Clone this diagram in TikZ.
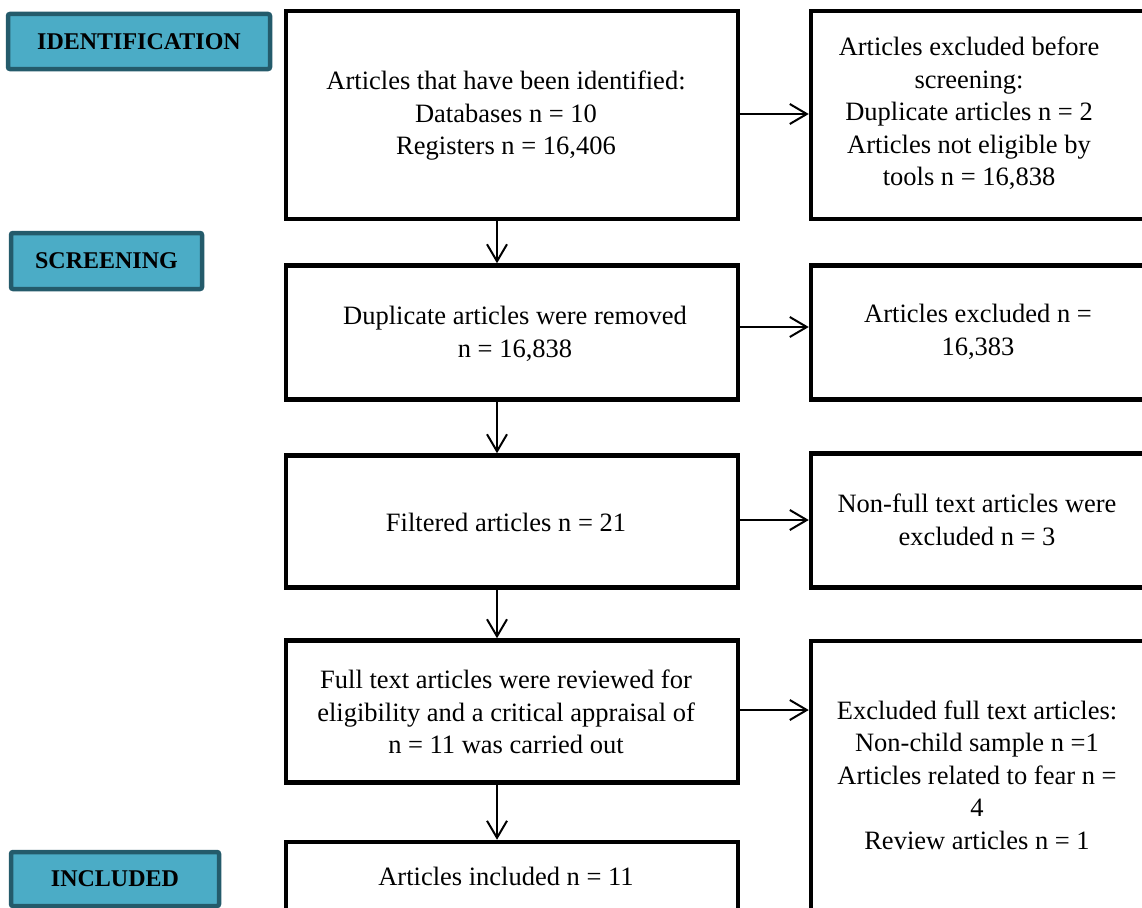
\documentclass[tikz,border=0pt]{standalone}
\usepackage{fontspec}
\setmainfont{Liberation Serif}
\usetikzlibrary{arrows.meta}
\definecolor{tealfill}{RGB}{75,172,198}
\definecolor{tealline}{RGB}{36,91,107}
\begin{document}
\begin{tikzpicture}[x=1pt,y=-1pt,
  mainbox/.style={draw=black,line width=4.5pt,rectangle,inner sep=0pt},
  txt/.style={align=center,inner sep=0pt,font=\fontsize{26.5}{32.5}\selectfont},
  stagebox/.style={draw=tealline,fill=tealfill,line width=4.5pt,rounded corners=2pt,inner sep=0pt,
    font=\fontsize{24}{26}\selectfont\bfseries},
  arr/.style={line width=2pt,-{Straight Barb[length=17pt,width=20pt,line width=2pt]}}]
\useasboundingbox (0,0) rectangle (1142,907);
% stage labels
\node[stagebox,minimum width=262pt,minimum height=55pt] (sid) at (139,41.5) {IDENTIFICATION};
\node[stagebox,minimum width=191pt,minimum height=56pt] (ssc) at (106.5,261) {SCREENING};
\node[stagebox,minimum width=208pt,minimum height=54pt] (sin) at (115,879) {INCLUDED};
% main column
\node[mainbox,minimum width=452pt,minimum height=208pt] (b1) at (512,115) {};
\node[mainbox,minimum width=452pt,minimum height=134pt] (b2) at (512,332.5) {};
\node[mainbox,minimum width=452pt,minimum height=132pt] (b3) at (512,521.5) {};
\node[mainbox,minimum width=452pt,minimum height=142pt] (b4) at (512,711.5) {};
\node[mainbox,minimum width=452pt,minimum height=100pt] (b5) at (512,892) {};
% right column
\node[mainbox,minimum width=350pt,minimum height=208pt] (r1) at (986,115) {};
\node[mainbox,minimum width=350pt,minimum height=134pt] (r2) at (986,332.5) {};
\node[mainbox,minimum width=350pt,minimum height=134pt] (r3) at (986,520.5) {};
\node[mainbox,minimum width=350pt,minimum height=300pt] (r4) at (986,791) {};
% texts
\node[txt] (t1) at (506,116) {Articles that have been identified:\\Databases n = 10\\Registers n = 16,406};
\node[txt] (t2) at (515,334) {Duplicate articles were removed\\n = 16,838};
\node[txt] (t3) at (506,522) {Filtered articles n = 21};
\node[txt] (t4) at (506,712) {Full text articles were reviewed for\\eligibility and a critical appraisal of\\n = 11 was carried out};
\node[txt] (t5) at (506,876) {Articles included n = 11};
\node[txt] (u1) at (969,113.5) {Articles excluded before\\screening:\\Duplicate articles n = 2\\Articles not eligible by\\tools n = 16,838};
\node[txt] (u2) at (978,332) {Articles excluded n =\\16,383};
\node[txt] (u3) at (977,520) {Non-full text articles were\\excluded n = 3};
\node[txt] (u4) at (977,775) {Excluded full text articles:\\Non-child sample n =1\\Articles related to fear n =\\4\\Review articles n = 1};
% connectors
\draw[arr] ([xshift=-15pt]b1.south) -- ([xshift=-15pt]b2.north);
\draw[arr] ([xshift=-15pt]b2.south) -- ([xshift=-15pt]b3.north);
\draw[arr] ([xshift=-15pt]b3.south) -- ([xshift=-15pt]b4.north);
\draw[arr] ([xshift=-15pt]b4.south) -- ([xshift=-15pt]b5.north);
\draw[arr] ([yshift=1pt]b1.east) -- ([yshift=1pt]b1.east -| r1.west);
\draw[arr] ([yshift=5.5pt]b2.east) -- ([yshift=5.5pt]b2.east -| r2.west);
\draw[arr] ([yshift=1.5pt]b3.east) -- ([yshift=1.5pt]b3.east -| r3.west);
\draw[arr] ([xshift=-4pt,yshift=1.5pt]b4.east) -- ([yshift=1.5pt]b4.east -| r4.west);
\end{tikzpicture}
\end{document}
